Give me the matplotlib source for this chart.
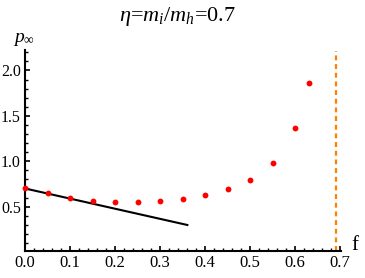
import numpy as np
import matplotlib
matplotlib.use("Agg")
import matplotlib.pyplot as plt
from matplotlib.ticker import MultipleLocator

plt.rcParams['font.family'] = ['Liberation Serif', 'DejaVu Serif']
plt.rcParams['mathtext.fontset'] = 'custom'
plt.rcParams['mathtext.rm'] = 'Liberation Serif'
plt.rcParams['mathtext.it'] = 'Liberation Serif:italic'

# data
f_pts = [0.0, 0.05, 0.10, 0.15, 0.20, 0.25, 0.30, 0.35, 0.40, 0.45, 0.50, 0.55, 0.60, 0.63]
p_pts = [0.70, 0.648, 0.593, 0.56, 0.549, 0.549, 0.563, 0.582, 0.626, 0.692, 0.79, 0.979, 1.365, 1.864]
f_line = [0.0, 0.363]
p_line = [0.70, 0.295]
f_crit = 0.69

fig = plt.figure(figsize=(3.65, 2.78), dpi=100)
ax = fig.add_axes([25/365, 27/278, 316.4/365, 200.5/278])

ax.plot(f_line, p_line, color='black', lw=1.5, solid_capstyle='butt', zorder=3)
ax.plot(f_pts, p_pts, 'o', color='#ff0000', ms=4.2, mec='none', zorder=4, clip_on=False)
ax.axvline(f_crit, color='#ff8000', lw=1.6, dashes=(2.2, 1.7), zorder=2)

ax.set_xlim(0, 0.703)
ax.set_ylim(0.011, 2.22)

for s in ['top', 'right']:
    ax.spines[s].set_visible(False)
for s in ['left', 'bottom']:
    ax.spines[s].set_linewidth(1.5)

ax.xaxis.set_minor_locator(MultipleLocator(0.02))
ax.yaxis.set_minor_locator(MultipleLocator(0.1))
ax.set_yticks([0.5, 1.0, 1.5, 2.0])
ax.set_xticks(np.arange(0, 0.71, 0.1))
ax.set_xticklabels(['%.1f' % v for v in np.arange(0, 0.71, 0.1)])
ax.set_yticklabels(['0.5', '1.0', '1.5', '2.0'])
ax.tick_params(which='major', direction='in', length=3.5, width=1.2, labelsize=12, pad=3)
ax.tick_params(axis='y', which='major', labelsize=11.5, pad=3)
ax.tick_params(which='minor', direction='in', length=2, width=1.0)

fig.text(177/365, 1 - 16/278, r'$\eta$=$m_i/m_h$=0.7', ha='center', va='center', fontsize=16)
fig.text(24/365, 1 - 39/278, r'$p_\infty$', ha='center', va='center', fontsize=14)
fig.text(355/365, 1 - 246/278, 'f', ha='center', va='center', fontsize=15)

fig.savefig('out.png', dpi=100)
